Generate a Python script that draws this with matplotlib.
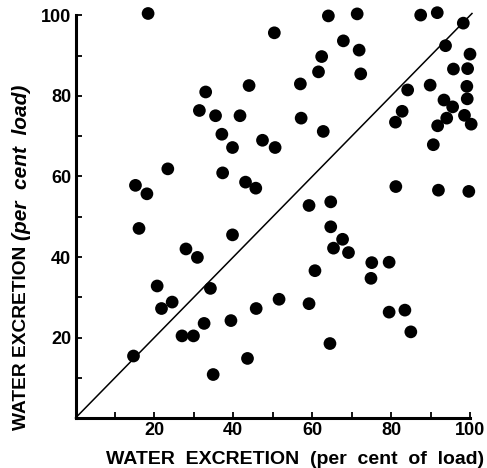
import numpy as np
import matplotlib
matplotlib.use("Agg")
from matplotlib import pyplot as plt
from matplotlib.ticker import MultipleLocator

# water excretion, per cent of load (x) vs per cent load (y)
x_vals = [18.4, 50.4, 33.0, 44.0, 31.4, 35.5, 41.7, 37.1, 39.8, 47.4, 50.6, 23.4,
          37.3, 43.1, 45.7, 15.2, 18.1, 64.1, 71.4, 87.5, 91.7, 98.3, 67.9, 71.9,
          62.4, 61.6, 72.3, 57.0, 57.2, 62.8, 93.8, 100.0, 95.8, 99.4, 84.2, 89.9,
          99.2, 99.3, 93.4, 95.6, 82.8, 81.1, 94.1, 91.8, 98.6, 100.3, 90.7, 81.2,
          92.0, 99.7, 59.2, 64.7,
          16.1, 39.8, 28.0, 30.9, 20.7, 24.5, 21.8, 34.2, 32.6, 39.4, 45.8, 51.6,
          27.0, 29.9, 14.7, 43.6, 34.9, 64.7, 67.7, 65.4, 69.2, 75.1, 79.5, 74.9,
          60.7, 59.2, 79.5, 83.5, 85.0, 64.5]
y_vals = [100.5, 95.7, 81.0, 82.6, 76.4, 75.1, 75.1, 70.5, 67.2, 69.0, 67.2, 61.9,
          60.9, 58.6, 57.1, 57.8, 55.7, 99.9, 100.4, 100.1, 100.7, 98.1, 93.7, 91.4,
          89.8, 86.0, 85.5, 83.0, 74.5, 71.2, 92.5, 90.4, 86.7, 86.8, 81.5, 82.7,
          82.4, 79.3, 79.0, 77.3, 76.2, 73.5, 74.5, 72.6, 75.2, 73.0, 67.9, 57.5,
          56.6, 56.3, 52.8, 53.7,
          47.1, 45.5, 42.0, 39.9, 32.8, 28.8, 27.2, 32.2, 23.5, 24.2, 27.2, 29.5,
          20.4, 20.4, 15.4, 14.8, 10.8, 47.5, 44.4, 42.2, 41.1, 38.6, 38.7, 34.7,
          36.6, 28.4, 26.3, 26.8, 21.4, 18.5]
line_x = [0, 100.5]
line_y = [0, 100.5]
tick_vals = [20, 40, 60, 80, 100]

plt.rcParams["font.family"] = ["Liberation Sans", "DejaVu Sans"]

fig = plt.figure(figsize=(4.87, 4.68), dpi=100)
ax = fig.add_axes([75.5 / 487, 1 - 418 / 468, 394.5 / 487, 402.5 / 468])

ax.plot(line_x, line_y, color="black", lw=1.1, clip_on=False)
ax.scatter(x_vals, y_vals, s=84, color="black", edgecolors="none", clip_on=False, zorder=3)

ax.set_xlim(0, 100)
ax.set_ylim(0, 100)
ax.set_xticks(tick_vals)
ax.set_yticks(tick_vals)
ax.xaxis.set_minor_locator(MultipleLocator(10))
ax.yaxis.set_minor_locator(MultipleLocator(10))
ax.tick_params(which="both", direction="in", length=4, width=1.3, labelsize=13, pad=3)
for lab in ax.get_xticklabels() + ax.get_yticklabels():
    lab.set_fontweight("bold")

for s in ["top", "right"]:
    ax.spines[s].set_visible(False)
for s in ["left", "bottom"]:
    ax.spines[s].set_linewidth(2.2)

fig.text(0.605, 0.008, "WATER  EXCRETION  (per  cent  of  load)", ha="center", va="baseline",
         fontsize=14, fontweight="bold")
# y label: upright part then italic part
fig.text(0.045, 1 - 430 / 468, "WATER EXCRETION", rotation=90, ha="center", va="bottom",
         fontsize=13.8, fontweight="bold")
fig.text(0.045, 1 - 240 / 468, "(per  cent  load)", rotation=90, ha="center", va="bottom",
         fontsize=15, fontweight="bold", fontstyle="italic")

fig.savefig("out.png", dpi=100)
